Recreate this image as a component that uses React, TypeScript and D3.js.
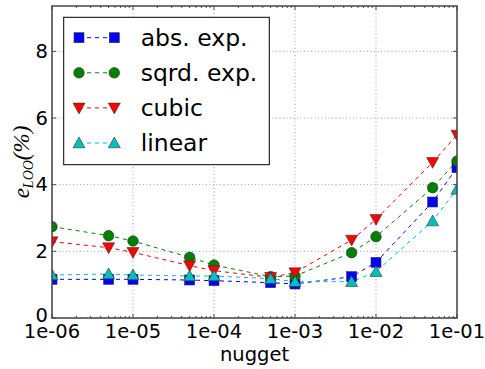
import React from "react";
import * as d3 from "d3";

const nuggets = [1e-6, 5e-6, 1e-5, 5e-5, 1e-4, 5e-4, 1e-3, 5e-3, 1e-2, 5e-2, 1e-1];
const absExp = [1.16, 1.16, 1.16, 1.14, 1.12, 1.06, 1.02, 1.24, 1.67, 3.48, 4.51];
const sqrdExp = [2.74, 2.47, 2.31, 1.82, 1.59, 1.24, 1.26, 1.96, 2.44, 3.91, 4.71];
const cubic = [2.29, 2.11, 1.97, 1.57, 1.42, 1.22, 1.36, 2.34, 2.96, 4.67, 5.49];
const linear = [1.29, 1.32, 1.29, 1.26, 1.26, 1.18, 1.09, 1.09, 1.39, 2.91, 3.86];
const seriesNames = ["abs. exp.", "sqrd. exp.", "cubic", "linear"];
const seriesColors = ["#0000ff", "#008000", "#ff0000", "#00bfbf"];
const seriesMarkers = ["square", "circle", "triDown", "triUp"];
const xTicks = [1e-6, 1e-5, 1e-4, 1e-3, 1e-2, 1e-1];
const xTickLabels = ["1e-06", "1e-05", "1e-04", "1e-03", "1e-02", "1e-01"];
const yTicks = [0, 2, 4, 6, 8];
const yMax = 9.36;

const W = 485, H = 369;
const L = 52, R = 457, T = 6, B = 318;
const FONT = "DejaVu Sans, sans-serif";

function Marker({ kind, x, y, color }: { kind: string; x: number; y: number; color: string }) {
  const s = 5;
  const stroke = "#333";
  const sw = 0.6;
  if (kind === "square")
    return <rect x={x - s} y={y - s} width={2 * s} height={2 * s} fill={color} stroke={stroke} strokeWidth={sw} />;
  if (kind === "circle") return <circle cx={x} cy={y} r={s + 0.3} fill={color} stroke={stroke} strokeWidth={sw} />;
  const t = 6;
  if (kind === "triDown")
    return (
      <path d={`M${x - t},${y - t * 0.8} L${x + t},${y - t * 0.8} L${x},${y + t}Z`} fill={color} stroke={stroke} strokeWidth={sw} />
    );
  return (
    <path d={`M${x - t},${y + t * 0.8} L${x + t},${y + t * 0.8} L${x},${y - t}Z`} fill={color} stroke={stroke} strokeWidth={sw} />
  );
}

export default function App() {
  const x = d3.scaleLog().domain([1e-6, 1e-1]).range([L, R]);
  const y = d3.scaleLinear().domain([0, yMax]).range([B, T]);
  const data = [absExp, sqrdExp, cubic, linear];
  const line = d3
    .line<number>()
    .x((_, i) => x(nuggets[i]))
    .y((d) => y(d));
  const minor: number[] = [];
  for (let e = -6; e < -1; e++) for (let m = 2; m <= 9; m++) minor.push(m * Math.pow(10, e));

  const legX = 63.7, legY = 17.3, legW = 205.6, legH = 147.4;
  const rowY = [37.7, 72.8, 107.9, 143.0];

  return (
    <div style={{ position: "fixed", left: 0, top: 0 }}>
      <svg width={W} height={H} style={{ display: "block", background: "#fff" }}>
        <defs>
          <clipPath id="plotclip">
            <rect x={L} y={T} width={R - L} height={B - T} />
          </clipPath>
        </defs>
        {/* grid */}
        <g stroke="#888" strokeWidth={0.8} strokeDasharray="1,2.5">
          {xTicks.map((t, i) => (
            <line key={"gx" + i} x1={x(t)} x2={x(t)} y1={T} y2={B} />
          ))}
          {yTicks.map((t, i) => (
            <line key={"gy" + i} x1={L} x2={R} y1={y(t)} y2={y(t)} />
          ))}
        </g>
        {/* series */}
        <g clipPath="url(#plotclip)">
          {data.map((vals, si) => (
            <path key={"l" + si} d={line(vals) || ""} fill="none" stroke={seriesColors[si]} strokeWidth={1} strokeDasharray="4,4" />
          ))}
          {data.map((vals, si) =>
            vals.map((v, i) => (
              <Marker key={"m" + si + "-" + i} kind={seriesMarkers[si]} x={x(nuggets[i])} y={y(v)} color={seriesColors[si]} />
            ))
          )}
        </g>
        {/* ticks */}
        <g stroke="#222" strokeWidth={0.8}>
          {xTicks.map((t, i) => (
            <g key={"tx" + i}>
              <line x1={x(t)} x2={x(t)} y1={B} y2={B - 4} />
              <line x1={x(t)} x2={x(t)} y1={T} y2={T + 4} />
            </g>
          ))}
          {minor.map((t, i) => (
            <g key={"mx" + i}>
              <line x1={x(t)} x2={x(t)} y1={B} y2={B - 2} />
              <line x1={x(t)} x2={x(t)} y1={T} y2={T + 2} />
            </g>
          ))}
          {yTicks.map((t, i) => (
            <g key={"ty" + i}>
              <line x1={L} x2={L + 4} y1={y(t)} y2={y(t)} />
              <line x1={R} x2={R - 4} y1={y(t)} y2={y(t)} />
            </g>
          ))}
        </g>
        {/* spines */}
        <rect x={L} y={T} width={R - L} height={B - T} fill="none" stroke="#444" strokeWidth={1.5} />
        {/* tick labels */}
        <g fontFamily={FONT} fontSize={19.5} fill="#000">
          {xTicks.map((t, i) => (
            <text key={"xl" + i} x={x(t)} y={337.7} textAnchor="middle">
              {xTickLabels[i]}
            </text>
          ))}
          {yTicks.map((t, i) => (
            <text key={"yl" + i} x={48} y={y(t) - (t === 0 ? 2.5 : 0)} textAnchor="end" dominantBaseline="central">
              {t}
            </text>
          ))}
          <text x={(L + R) / 2} y={361} textAnchor="middle">
            nugget
          </text>
        </g>
        {/* y label */}
        <text
          transform={`translate(28.5, ${(T + B) / 2}) rotate(-90)`}
          textAnchor="middle"
          fontFamily="Liberation Serif, DejaVu Serif, serif"
          fontSize={23}
          fontStyle="italic"
        >
          e<tspan fontSize={14} dy={4}>LOO</tspan>
          <tspan dy={-4}>(%)</tspan>
        </text>
        {/* legend */}
        <rect x={legX} y={legY} width={legW} height={legH} fill="#fff" stroke="#000" strokeWidth={1} />
        {seriesNames.map((n, si) => (
          <g key={"lg" + si}>
            <line x1={79} x2={114.3} y1={rowY[si]} y2={rowY[si]} stroke={seriesColors[si]} strokeWidth={1} strokeDasharray="4,4" />
            <Marker kind={seriesMarkers[si]} x={79} y={rowY[si]} color={seriesColors[si]} />
            <Marker kind={seriesMarkers[si]} x={114.3} y={rowY[si]} color={seriesColors[si]} />
            <text x={140.7} y={rowY[si]} dominantBaseline="central" fontFamily={FONT} fontSize={23.5}>
              {n}
            </text>
          </g>
        ))}
      </svg>
    </div>
  );
}
